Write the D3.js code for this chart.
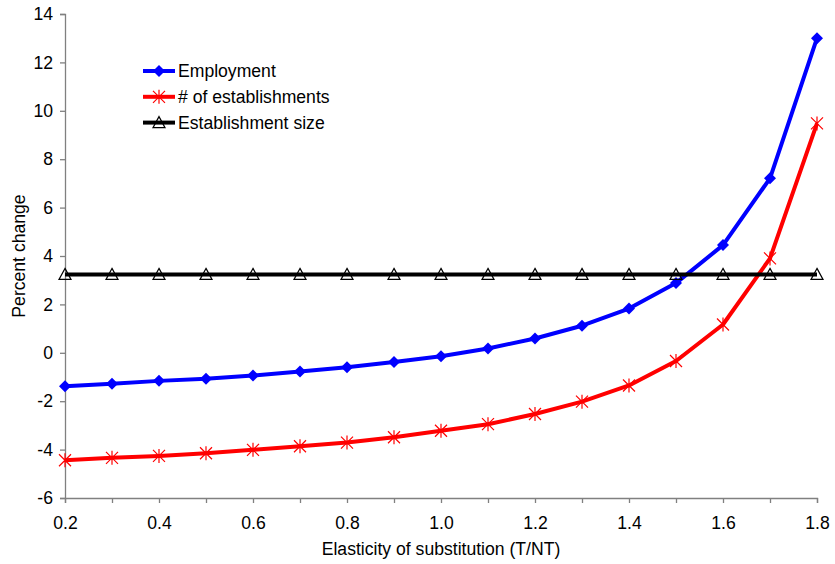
<!DOCTYPE html>
<html>
<head>
<meta charset="utf-8">
<script src="https://cdn.jsdelivr.net/npm/d3@7"></script>
<style>
  body { margin: 0; background: #fff; }
  text { font-family: "Liberation Sans", Arial, sans-serif; fill: #000; }
</style>
</head>
<body>
<svg id="chart"></svg>
<script>
// elasticity values on the x axis
const elasticity = [0.2, 0.3, 0.4, 0.5, 0.6, 0.7, 0.8, 0.9, 1.0, 1.1, 1.2, 1.3, 1.4, 1.5, 1.6, 1.7, 1.8];

// percent change series
const employment = [-1.38, -1.28, -1.16, -1.07, -0.94, -0.77, -0.60, -0.38, -0.14, 0.18, 0.59, 1.12, 1.83, 2.88, 4.45, 7.21, 13.0];
const establishments = [-4.44, -4.34, -4.26, -4.15, -4.01, -3.86, -3.71, -3.49, -3.22, -2.95, -2.53, -2.02, -1.35, -0.34, 1.17, 3.90, 9.48];
const estSize = [3.24, 3.24, 3.24, 3.24, 3.24, 3.24, 3.24, 3.24, 3.24, 3.24, 3.24, 3.24, 3.24, 3.24, 3.24, 3.24, 3.24];

const yTicks = [-6, -4, -2, 0, 2, 4, 6, 8, 10, 12, 14];
const xLabels = [0.2, 0.4, 0.6, 0.8, 1.0, 1.2, 1.4, 1.6, 1.8];

const seriesNames = ["Employment", "# of establishments", "Establishment size"];

const width = 835, height = 564;
const margin = { top: 14, right: 18, bottom: 66, left: 65 };
const fontSize = 17.6;

const svg = d3.select("#chart").attr("width", width).attr("height", height);

const x = d3.scaleLinear().domain([0.2, 1.8]).range([margin.left, width - margin.right]);
const y = d3.scaleLinear().domain([-6, 14]).range([height - margin.bottom, margin.top]);

const axisColor = "#808080";

// y axis (plain hyphen for negatives, like the original)
const yAxis = svg.append("g")
    .attr("transform", `translate(${margin.left},0)`)
    .call(d3.axisLeft(y).tickValues(yTicks).tickSize(5).tickPadding(7).tickFormat(d => String(d)));

// x axis: ticks at every point, labels every other one
const xAxis = svg.append("g")
    .attr("transform", `translate(0,${height - margin.bottom})`)
    .call(d3.axisBottom(x).tickValues(elasticity).tickSize(5).tickPadding(14)
        .tickFormat(d => xLabels.some(v => Math.abs(v - d) < 1e-9) ? d.toFixed(1) : ""));

[yAxis, xAxis].forEach(g => {
    g.select(".domain").attr("stroke", axisColor).attr("stroke-width", 1.3);
    g.selectAll(".tick line").attr("stroke", axisColor).attr("stroke-width", 1.3);
    g.selectAll("text").attr("font-size", fontSize).attr("fill", "#000")
        .style("font-family", "'Liberation Sans', Arial, sans-serif");
});

// axis titles
svg.append("text")
    .attr("x", 441).attr("y", 555)
    .attr("text-anchor", "middle").attr("font-size", fontSize)
    .text("Elasticity of substitution (T/NT)");

svg.append("text")
    .attr("transform", "translate(25,256) rotate(-90)")
    .attr("text-anchor", "middle").attr("font-size", fontSize)
    .text("Percent change");

const line = d3.line().x((d, i) => x(elasticity[i])).y(d => y(d));

const series = [
    { name: seriesNames[0], values: employment, color: "#0000ff", marker: "diamond" },
    { name: seriesNames[1], values: establishments, color: "#ff0000", marker: "star" },
    { name: seriesNames[2], values: estSize, color: "#000000", marker: "triangle" }
];

function drawMarker(g, type, color, cx, cy) {
    if (type === "diamond") {
        g.append("path")
            .attr("d", `M${cx},${cy - 6}L${cx + 6},${cy}L${cx},${cy + 6}L${cx - 6},${cy}Z`)
            .attr("fill", color);
    } else if (type === "star") {
        const r = 6;
        g.append("path")
            .attr("d", `M${cx - r},${cy - r}L${cx + r},${cy + r}M${cx - r},${cy + r}L${cx + r},${cy - r}M${cx},${cy - r - 1}L${cx},${cy + r + 1}`)
            .attr("stroke", color).attr("stroke-width", 1.2).attr("fill", "none");
    } else {
        g.append("path")
            .attr("d", `M${cx},${cy - 6}L${cx + 6},${cy + 5}L${cx - 6},${cy + 5}Z`)
            .attr("stroke", "#000").attr("stroke-width", 1.2).attr("fill", "none");
    }
}

series.forEach(s => {
    svg.append("path")
        .datum(s.values)
        .attr("d", line)
        .attr("fill", "none")
        .attr("stroke", s.color)
        .attr("stroke-width", 4)
        .attr("stroke-linejoin", "round");
    const mg = svg.append("g");
    s.values.forEach((v, i) => drawMarker(mg, s.marker, s.color, x(elasticity[i]), y(v)));
});

// legend
const legend = svg.append("g");
series.forEach((s, i) => {
    const ly = 71 + i * 25.8;
    legend.append("line")
        .attr("x1", 143).attr("x2", 175).attr("y1", ly).attr("y2", ly)
        .attr("stroke", s.color).attr("stroke-width", 4);
    drawMarker(legend, s.marker, s.color, 159, ly);
    legend.append("text")
        .attr("x", 178).attr("y", ly).attr("dy", "0.36em")
        .attr("font-size", fontSize)
        .text(s.name);
});
</script>
</body>
</html>
